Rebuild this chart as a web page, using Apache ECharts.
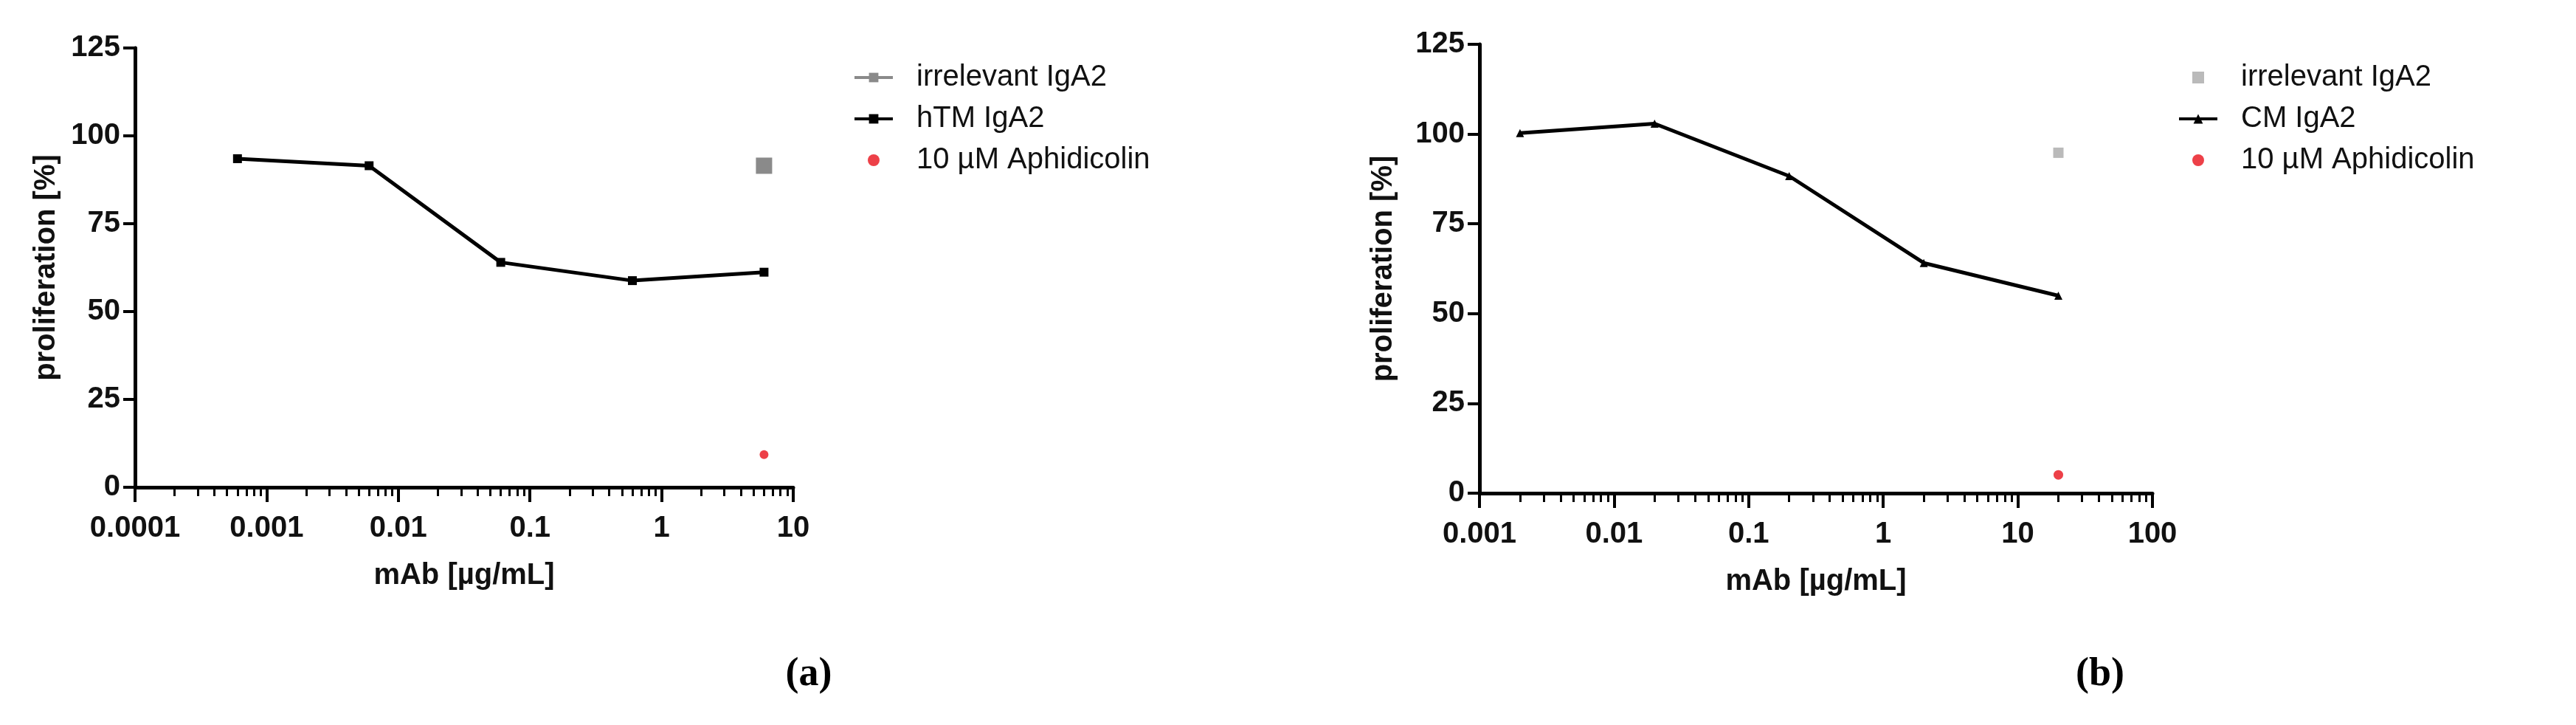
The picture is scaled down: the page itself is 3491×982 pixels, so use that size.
<!DOCTYPE html>
<html>
<head>
<meta charset="UTF-8">
<title>proliferation vs mAb</title>
<script src="https://cdn.jsdelivr.net/npm/echarts@6/dist/echarts.min.js"></script>
<style>
    html, body { margin: 0; padding: 0; background: #fff; }
    #wrap { position: relative; width: 3491px; height: 982px; }
    #chartA { position: absolute; left: 0; top: 0; width: 1745px; height: 982px; }
    #chartB { position: absolute; left: 1745px; top: 0; width: 1746px; height: 982px; }
</style>
</head>
<body>
<div id="wrap">
    <div id="chartA"></div>
    <div id="chartB"></div>
</div>
<script>
// (a) hTM IgA2
var concA = [0.0006, 0.006, 0.06, 0.6, 6];
var htmA = [93.5, 91.5, 64, 58.8, 61.2];
var ctrlConcA = [6];
var irrA = [91.5];
var aphA = [9.3];
var xRangeA = [0.0001, 10];

// (b) CM IgA2
var concB = [0.002, 0.02, 0.2, 2, 20];
var cmB = [100.3, 102.9, 88.3, 64.1, 55];
var ctrlConcB = [20];
var irrB = [94.8];
var aphB = [5.1];
var xRangeB = [0.001, 100];

var yRange = [0, 125];
var yStep = 25;

var FONT = 'Liberation Sans, Arial, sans-serif';
var INK = '#111';
var RED = '#e8101a';
var SQUARE = 'path://M0,0L10,0L10,10L0,10Z';

function pairs(xs, ys) {
    var out = [];
    for (var i = 0; i < xs.length; i++) out.push([xs[i], ys[i]]);
    return out;
}

// minor tick positions (2..9 of each decade), on a log10 value axis
function minorExp(range) {
    var lo = Math.round(Math.log10(range[0])), hi = Math.round(Math.log10(range[1]));
    var out = [];
    for (var d = lo; d < hi; d++) {
        for (var k = 2; k <= 9; k++) out.push(d + Math.log10(k));
    }
    return out;
}

function tickLabel(v) {
    return String(+Number(v).toPrecision(6));
}

function buildOption(p) {
    return {
        animation: false,
        backgroundColor: '#fff',
        title: {
            text: '{p|(}{b|' + p.tag + '}{p|)}',
            left: p.tagX,
            top: 882,
            textAlign: 'center',
            textStyle: {
                rich: {
                    p: { fontFamily: 'Liberation Serif, serif', fontSize: 54, color: '#000' },
                    b: { fontFamily: 'Liberation Serif, serif', fontSize: 54, fontWeight: 'bold', color: '#000' }
                }
            }
        },
        legend: {
            orient: 'vertical',
            left: p.legendX,
            top: 85,
            padding: 0,
            itemWidth: 52,
            itemHeight: 16,
            itemGap: 16,
            symbolKeepAspect: true,
            data: p.legend,
            lineStyle: { width: 4 },
            textStyle: { fontFamily: FONT, fontSize: 40, lineHeight: 40, color: INK, padding: [0, 0, 0, 27] }
        },
        grid: { left: p.grid[0], top: p.grid[1], width: p.grid[2], height: p.grid[3] },
        xAxis: [{
            type: 'log',
            logBase: 10,
            min: p.xRange[0],
            max: p.xRange[1],
            name: 'mAb [µg/mL]',
            nameLocation: 'middle',
            nameGap: 100,
            nameTextStyle: { fontFamily: FONT, fontSize: 40, fontWeight: 'bold', color: INK },
            axisLine: { lineStyle: { color: '#000', width: 5 } },
            axisTick: { length: 20, lineStyle: { color: '#000', width: 4 } },
            axisLabel: { margin: 36, fontFamily: FONT, fontSize: 40, fontWeight: 'bold', color: INK, formatter: tickLabel },
            splitLine: { show: false }
        }, {
            // minor ticks only
            type: 'value',
            min: Math.log10(p.xRange[0]),
            max: Math.log10(p.xRange[1]),
            position: 'bottom',
            axisLine: { show: false },
            axisTick: { show: true, length: 12, customValues: minorExp(p.xRange), lineStyle: { color: '#000', width: 3 } },
            axisLabel: { show: false },
            splitLine: { show: false }
        }],
        yAxis: {
            type: 'value',
            min: yRange[0],
            max: yRange[1],
            interval: yStep,
            name: 'proliferation [%]',
            nameLocation: 'middle',
            nameGap: p.yNameGap,
            nameTextStyle: { fontFamily: FONT, fontSize: 40, fontWeight: 'bold', color: INK },
            axisLine: { show: true, onZero: false, lineStyle: { color: '#000', width: 5 } },
            axisTick: { show: true, length: 16, lineStyle: { color: '#000', width: 4 } },
            axisLabel: { margin: 20, fontFamily: FONT, fontSize: 40, fontWeight: 'bold', color: INK },
            splitLine: { show: false }
        },
        series: p.series
    };
}

var chartA = echarts.init(document.getElementById('chartA'));
chartA.setOption(buildOption({
    tag: 'a',
    tagX: 1091,
    legendX: 1156,
    yNameGap: 100,
    grid: [183, 65, 892, 595],
    xRange: xRangeA,
    legend: ['irrelevant IgA2', 'hTM IgA2', '10 µM Aphidicolin'],
    series: [{
        name: 'irrelevant IgA2',
        type: 'line',
        data: pairs(ctrlConcA, irrA),
        symbol: 'rect',
        symbolSize: 22,
        itemStyle: { color: '#8a8a8a' },
        lineStyle: { color: '#8a8a8a', width: 5 }
    }, {
        name: 'hTM IgA2',
        type: 'line',
        data: pairs(concA, htmA),
        symbol: 'rect',
        symbolSize: 12,
        itemStyle: { color: '#000' },
        lineStyle: { color: '#000', width: 5 }
    }, {
        name: '10 µM Aphidicolin',
        type: 'scatter',
        data: pairs(ctrlConcA, aphA),
        symbol: 'circle',
        symbolSize: 12,
        itemStyle: { color: RED }
    }]
}));

var chartB = echarts.init(document.getElementById('chartB'));
chartB.setOption(buildOption({
    tag: 'b',
    tagX: 1096,
    legendX: 1206,
    yNameGap: 110,
    grid: [260, 60, 912, 608],
    xRange: xRangeB,
    legend: ['irrelevant IgA2', 'CM IgA2', '10 µM Aphidicolin'],
    series: [{
        name: 'irrelevant IgA2',
        type: 'scatter',
        data: pairs(ctrlConcB, irrB),
        symbol: SQUARE,
        symbolSize: 14,
        itemStyle: { color: '#a9a9a9' }
    }, {
        name: 'CM IgA2',
        type: 'line',
        data: pairs(concB, cmB),
        symbol: 'triangle',
        symbolSize: 11,
        itemStyle: { color: '#000' },
        lineStyle: { color: '#000', width: 5 }
    }, {
        name: '10 µM Aphidicolin',
        type: 'scatter',
        data: pairs(ctrlConcB, aphB),
        symbol: 'circle',
        symbolSize: 13,
        itemStyle: { color: RED }
    }]
}));
</script>
</body>
</html>
